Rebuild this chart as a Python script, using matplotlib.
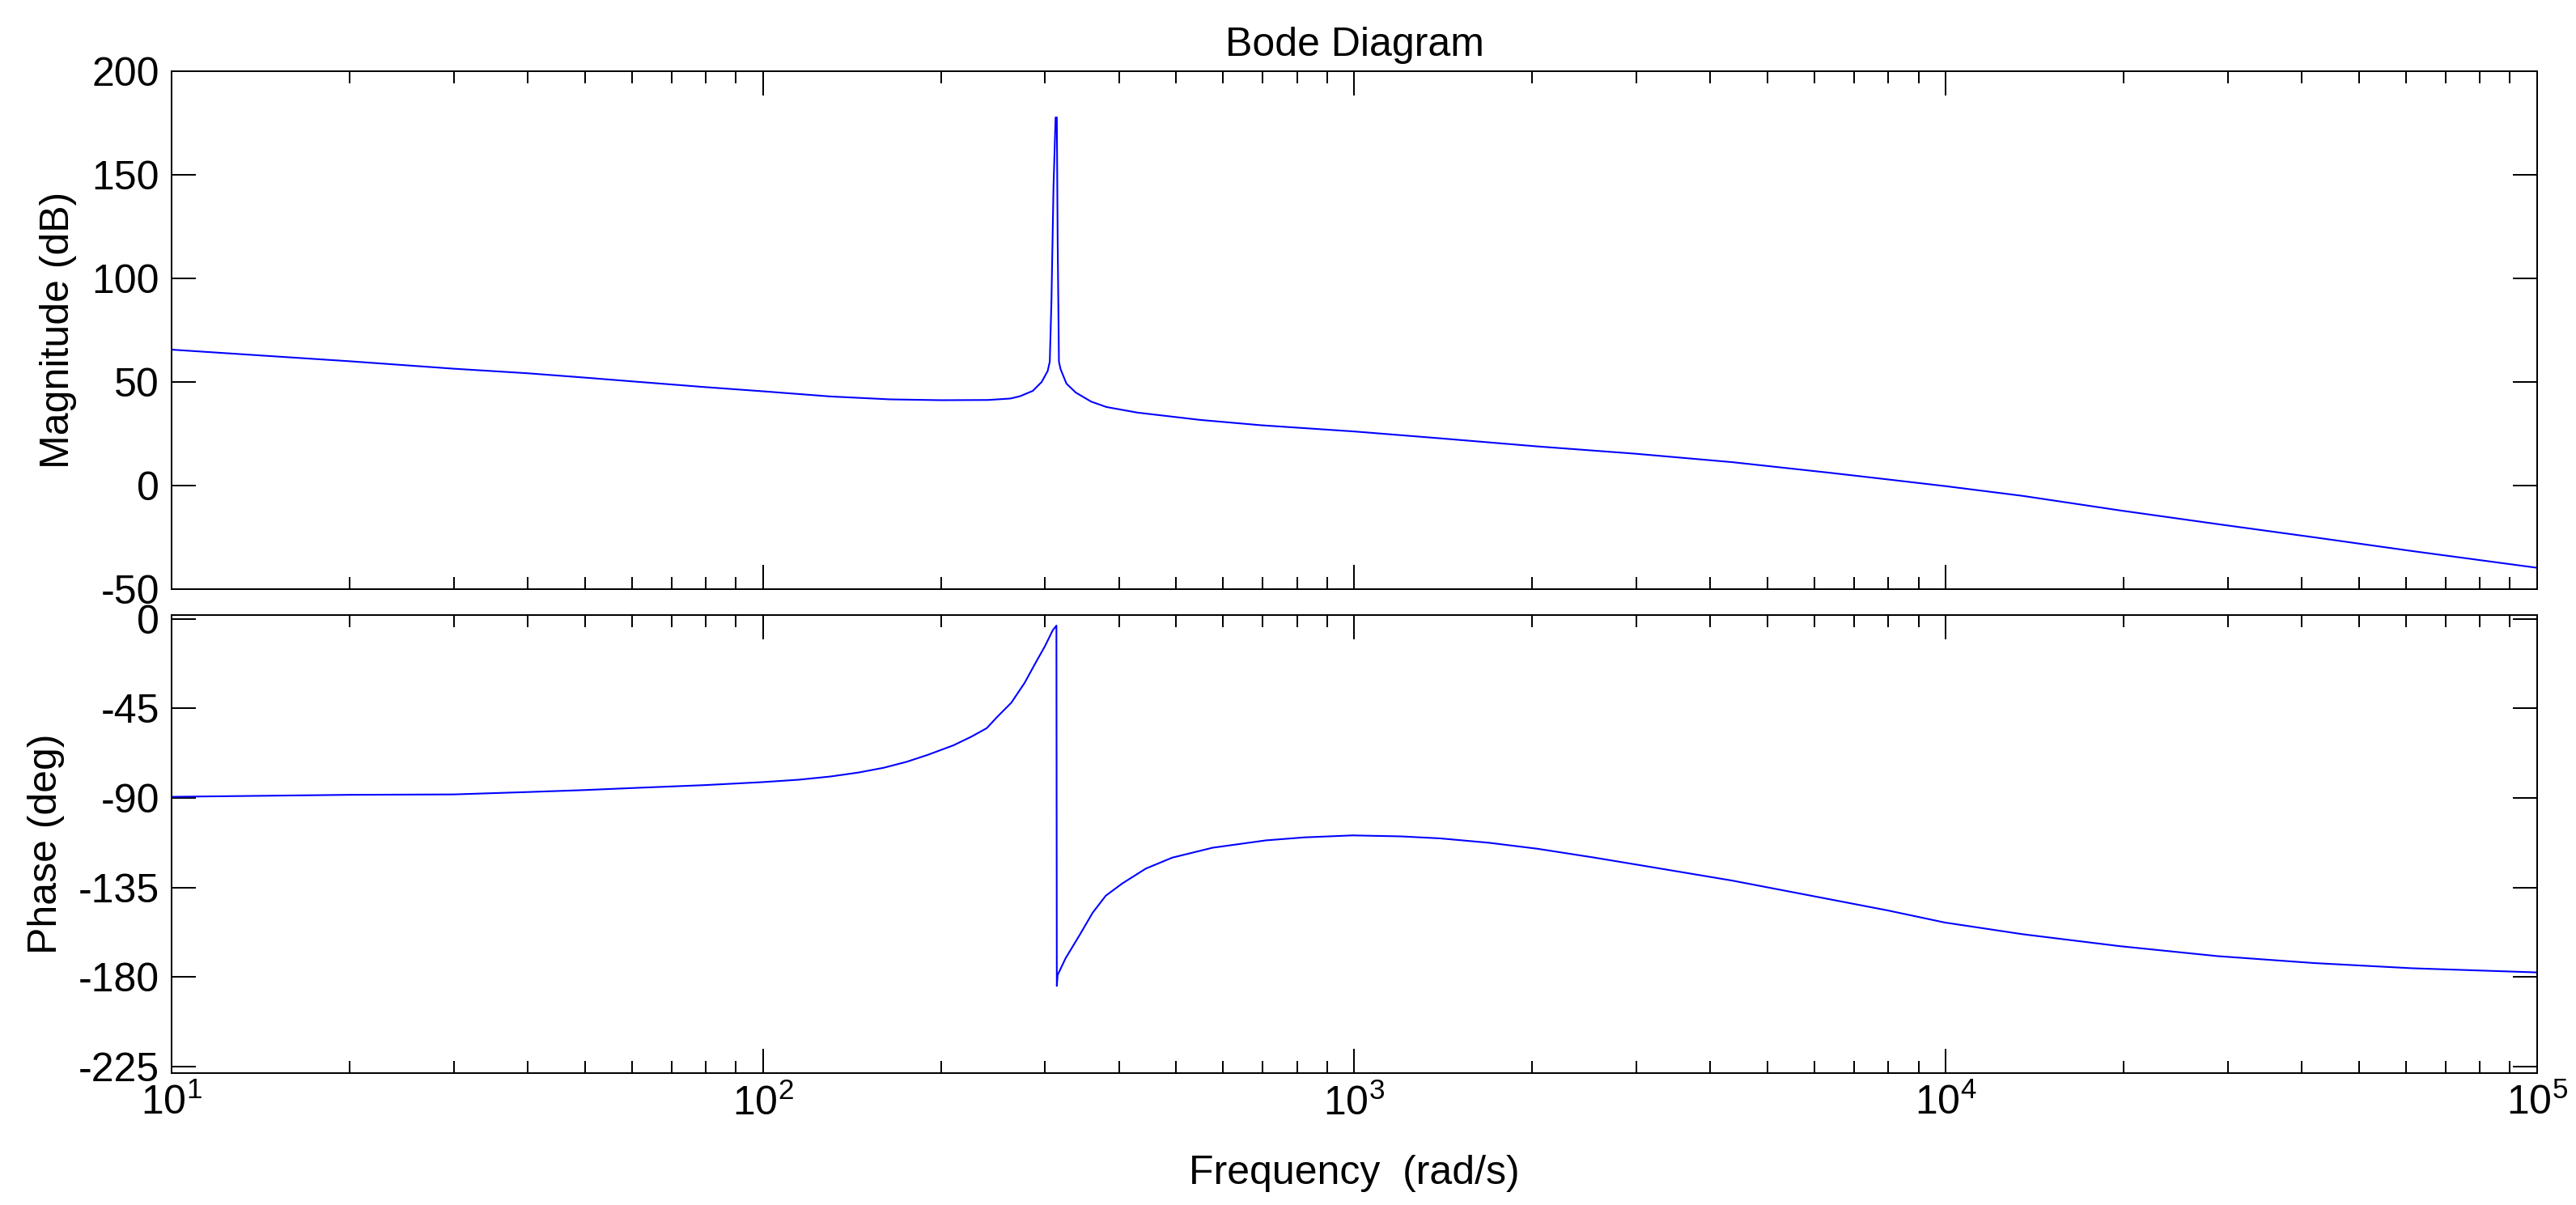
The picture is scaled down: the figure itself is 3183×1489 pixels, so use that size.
import matplotlib
matplotlib.use("Agg")
import matplotlib.pyplot as plt
from matplotlib.ticker import LogLocator, NullFormatter, FixedLocator

plt.rcParams['font.family'] = ['Liberation Sans', 'DejaVu Sans']
plt.rcParams['mathtext.fontset'] = 'custom'
plt.rcParams['mathtext.rm'] = 'Liberation Sans'
plt.rcParams['mathtext.it'] = 'Liberation Sans:italic'
plt.rcParams['mathtext.bf'] = 'Liberation Sans:bold'
plt.rcParams['axes.unicode_minus'] = False

# values
mag_freq = [10, 20, 30, 40, 50, 60, 80, 100, 130, 164, 200, 240, 262, 272,
            286, 296, 303, 305.5, 307.5, 310, 312.5, 314, 315, 316.6, 318.6,
            326, 338, 359, 381, 430, 548, 696, 1000, 1396, 2037, 2976, 4350,
            6350, 7900, 10000, 13500, 19700, 28800, 42000, 61400, 100000]
mag_db = [65.6, 60.0, 56.4, 54.2, 52.1, 50.3, 47.5, 45.5, 43.0, 41.6, 41.2,
          41.3, 42.0, 43.1, 45.7, 50.0, 55.3, 59.8, 89.3, 144.7, 177.7, 177.7,
          119.0, 59.8, 56.2, 49.2, 44.9, 40.5, 37.9, 35.2, 31.7, 29.1, 26.1,
          22.8, 18.9, 15.4, 11.3, 6.2, 3.1, -0.3, -5.0, -12.0, -18.6, -25.0,
          -31.6, -39.7]

ph_freq = [10, 20, 30, 40, 50, 60, 80, 100, 115, 130, 145, 160, 175, 190,
           210, 225, 239, 249, 263, 277, 289, 300, 309, 313.5, 314, 315, 325,
           343, 361, 380, 405, 444, 492, 576, 709, 823, 993, 1200, 1396, 1688,
           2038, 2550, 3190, 4350, 5890, 7970, 9960, 13500, 19700, 28800,
           42000, 61400, 100000]
ph_deg = [-89.4, -88.4, -88.2, -87.0, -86.0, -85.0, -83.5, -82.0, -80.8,
          -79.2, -77.2, -74.8, -71.8, -68.3, -63.5, -59.2, -54.9, -49.2,
          -42.1, -32.1, -22.1, -13.5, -5.7, -3.3, -184.5, -179.0, -170.5,
          -159.0, -147.7, -139.1, -133.0, -125.5, -120.0, -115.0, -111.3,
          -109.8, -108.8, -109.3, -110.3, -112.5, -115.5, -120.0, -124.8,
          -131.5, -139.0, -146.5, -152.6, -158.5, -164.5, -169.5, -173.0,
          -175.6, -177.7]

mag_ticks = [-50, 0, 50, 100, 150, 200]
ph_ticks = [-225, -180, -135, -90, -45, 0]

fig = plt.figure(figsize=(31.83, 14.89), dpi=100)
ax1 = fig.add_axes([0.0666, 0.5111, 0.9183, 0.4298])
ax2 = fig.add_axes([0.0666, 0.1095, 0.9183, 0.3801])

ax1.semilogx(mag_freq, mag_db, color=(0, 0, 1), lw=1.5)
ax2.semilogx(ph_freq, ph_deg, color=(0, 0, 1), lw=1.5)

ax1.set_ylim(-50, 200)
ax2.set_ylim(-228.3, 2)
ax1.yaxis.set_major_locator(FixedLocator(mag_ticks))
ax2.yaxis.set_major_locator(FixedLocator(ph_ticks))

for ax in (ax1, ax2):
    ax.set_xlim(10, 1e5)
    ax.xaxis.set_major_locator(LogLocator(base=10, numticks=10))
    ax.xaxis.set_minor_locator(LogLocator(base=10, subs=range(2, 10), numticks=20))
    ax.xaxis.set_minor_formatter(NullFormatter())
    ax.tick_params(which='both', direction='in', top=True, right=True,
                   width=1.44, labelsize=36, colors='black')
    ax.tick_params(which='major', length=21.6)
    ax.tick_params(which='minor', length=10.8)
    ax.tick_params(axis='y', pad=10.8)
    ax.tick_params(axis='x', pad=10)
    for s in ax.spines.values():
        s.set_linewidth(1.44)

ax1.tick_params(axis='x', labelbottom=False)

ax1.set_title('Bode Diagram', fontsize=36, pad=13.7)
ax1.set_ylabel('Magnitude (dB)', fontsize=36)
ax2.set_ylabel('Phase (deg)', fontsize=36)
ax2.set_xlabel('Frequency  (rad/s)', fontsize=36)
ax1.yaxis.set_label_coords(-0.040, 0.5)
ax2.yaxis.set_label_coords(-0.0452, 0.5)
ax2.xaxis.set_label_coords(0.5, -0.1784)

fig.savefig('out.png', dpi=100, facecolor='white')
